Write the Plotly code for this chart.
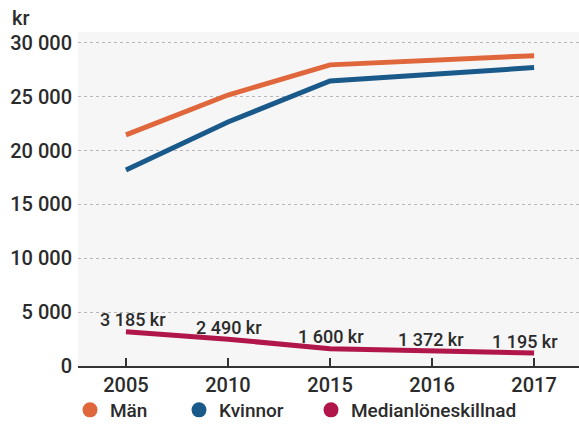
import plotly.graph_objects as go

years = ["2005", "2010", "2015", "2016", "2017"]
man = [21450, 25150, 27950, 28400, 28800]
kvinnor = [18200, 22650, 26450, 27050, 27700]
skillnad = [3185, 2490, 1600, 1372, 1195]

series_names = ["Män", "Kvinnor", "Medianlöneskillnad"]
series_colors = ["#e0673c", "#1a5a8a", "#b0164a"]

font_family = "Roboto, Liberation Sans, Arial, sans-serif"
txt_color = "#2b2b2b"
W, H = 579, 425
L, R, T, B = 78, 0, 32, 59

fig = go.Figure()
for name, vals, col in zip(series_names, [man, kvinnor, skillnad], series_colors):
    fig.add_trace(go.Scatter(
        x=years, y=vals, name=name, showlegend=False, mode="lines",
        line=dict(color=col, width=5),
    ))

# value labels for the gap series (x given as category index)
label_xshift = [7, 1, 1, -1, -9]
annotations = []
for idx, (v, dx) in enumerate(zip(skillnad, label_xshift)):
    annotations.append(dict(
        x=idx, y=v, xref="x", yref="y", text=f"{v:,d} kr".replace(",", " "),
        showarrow=False, xanchor="center", yanchor="middle",
        xshift=dx, yshift=12,
        font=dict(size=18, color=txt_color, family=font_family, weight=500)))

annotations.append(dict(text="kr", xref="paper", yref="paper",
                        x=(10 - L) / (W - L - R), y=(H - B - 18) / (H - T - B),
                        xanchor="left", yanchor="middle", showarrow=False,
                        font=dict(size=20, color=txt_color, family=font_family, weight=500)))

# legend entries (circle markers), one legend each for exact placement
legend_x = [80, 189, 321]
for i, (name, col) in enumerate(zip(series_names, series_colors)):
    lg = "legend" if i == 0 else f"legend{i+1}"
    fig.add_trace(go.Scatter(x=[None], y=[None], name=name, mode="markers",
                             marker=dict(color=col, size=15, symbol="circle"),
                             showlegend=True, legend=lg))

legend_common = dict(orientation="h", xref="container", yref="container",
                     xanchor="left", yanchor="middle",
                     font=dict(size=19, color=txt_color, family=font_family, weight=500),
                     bgcolor="rgba(0,0,0,0)", borderwidth=0)
layout_legends = {}
for i, lx in enumerate(legend_x):
    key = "legend" if i == 0 else f"legend{i+1}"
    layout_legends[key] = dict(legend_common, x=(lx - 10) / W, y=1 - 410 / H)

ytick_vals = [0, 5000, 10000, 15000, 20000, 25000, 30000]

fig.update_layout(
    width=W, height=H,
    margin=dict(l=L, r=R, t=T, b=B, autoexpand=False),
    paper_bgcolor="white",
    plot_bgcolor="#f6f6f6",
    font=dict(family=font_family, size=20, color=txt_color, weight=500),
    xaxis=dict(type="category", categoryorder="array", categoryarray=years,
               range=[-0.47, 4.44], showgrid=False,
               showline=True, linecolor="#333333", linewidth=1.5,
               ticks="inside", ticklen=8, tickcolor="#333333", tickwidth=1.5,
               tickfont=dict(size=20, color=txt_color, family=font_family, weight=500)),
    yaxis=dict(range=[0, 31000], tickvals=ytick_vals,
               ticktext=[f"{v:,d}".replace(",", " ") for v in ytick_vals],
               showgrid=True, gridcolor="#b8b8b8", griddash="dot",
               gridwidth=1, zeroline=False, showline=False, ticklabelstandoff=5,
               tickfont=dict(size=20, color=txt_color, family=font_family, weight=500)),
    annotations=annotations,
    **layout_legends,
)

fig.write_html("out.html", config={"displayModeBar": False},
               post_script="document.body.style.margin='0';document.body.style.overflow='hidden';")
